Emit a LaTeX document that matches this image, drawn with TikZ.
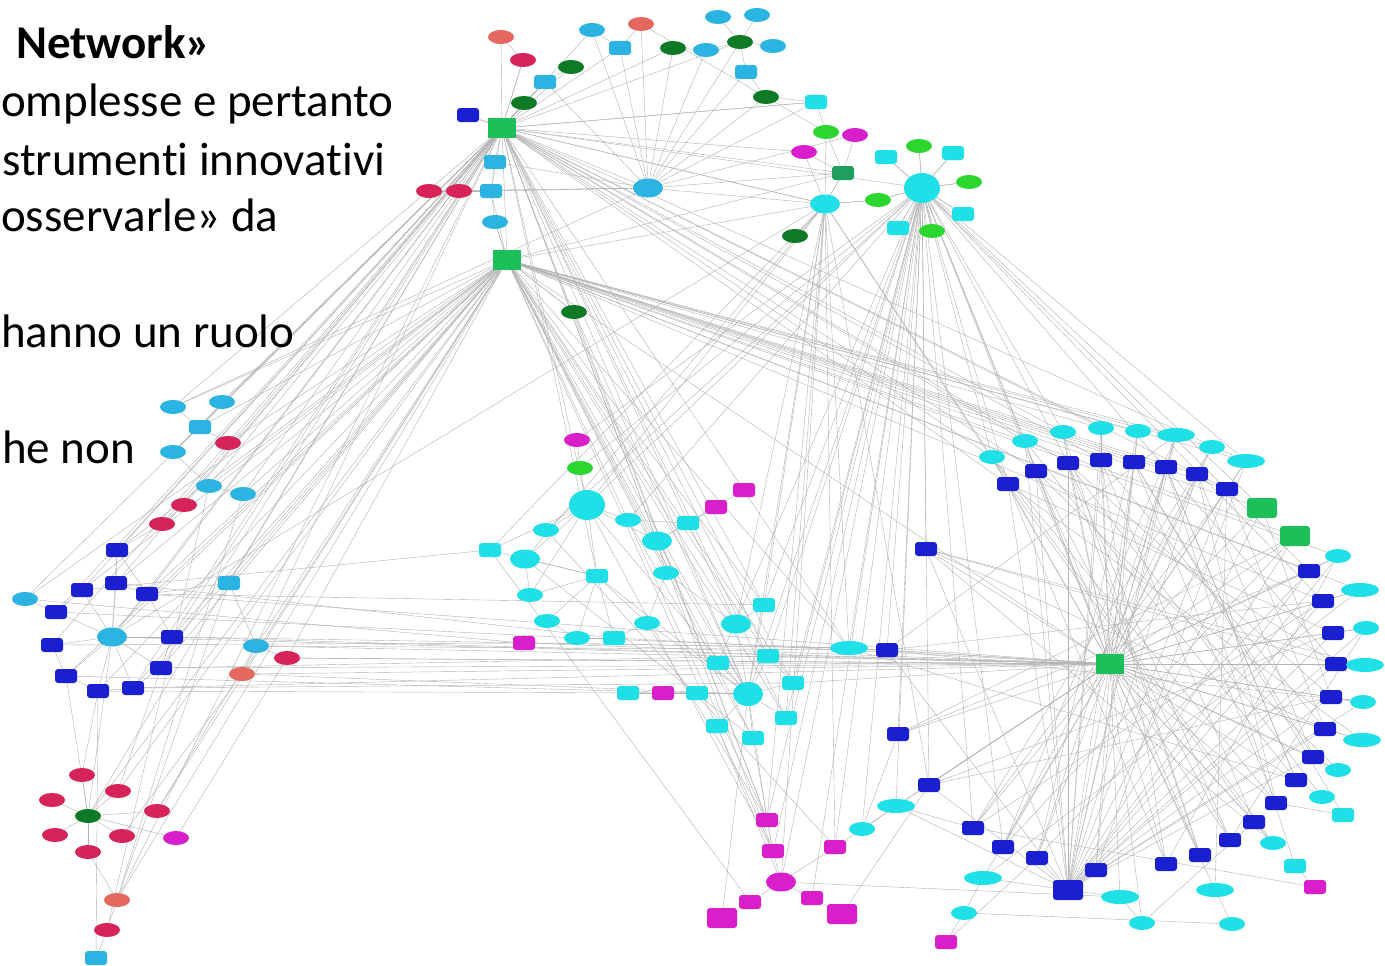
\documentclass[tikz,border=0pt]{standalone}
\usepackage{fontspec}
\setmainfont{Carlito}[Ligatures=NoCommon]
\usetikzlibrary{shapes.geometric,backgrounds}
\definecolor{salmon}{HTML}{E4685F}
\definecolor{crim}{HTML}{D6245A}
\definecolor{sky}{HTML}{2BB3E2}
\definecolor{cyn}{HTML}{1FE0E6}
\definecolor{dgr}{HTML}{0E7A25}
\definecolor{lgr}{HTML}{2BD62E}
\definecolor{sqg}{HTML}{1DBF5A}
\definecolor{seag}{HTML}{1E9E5F}
\definecolor{blu}{HTML}{1A20D0}
\definecolor{mag}{HTML}{D91FCC}
\begin{document}
\begin{tikzpicture}[x=1pt,y=-1pt,
  el/.style={ellipse,inner sep=0pt,minimum width=26pt,minimum height=14pt,draw=none},
  elL/.style={ellipse,inner sep=0pt,minimum width=38pt,minimum height=14pt,draw=none},
  elB/.style={ellipse,inner sep=0pt,minimum width=30pt,minimum height=19pt,draw=none},
  circB/.style={ellipse,inner sep=0pt,minimum width=36pt,minimum height=30pt,draw=none},
  rr/.style={rectangle,rounded corners=3pt,inner sep=0pt,minimum width=22pt,minimum height=14pt,draw=none},
  rrB/.style={rectangle,rounded corners=3pt,inner sep=0pt,minimum width=30pt,minimum height=20pt,draw=none},
  sq/.style={rectangle,inner sep=0pt,minimum width=28pt,minimum height=20pt,draw=none},
  edge/.style={draw=gray!60,line width=0.4pt},
  txt/.style={font=\fontsize{47}{56}\selectfont,inner sep=0pt,anchor=base west,text=black}]
\useasboundingbox (0,0) rectangle (1385,966);
% ---------- text ----------
\node[txt] (w1) at (16,59) {\textbf{Network»}};
\node[txt] (w2) at (1,116) {omplesse e pertanto};
\node[txt] (w3) at (2,175) {strumenti innovativi};
\node[txt] (w4) at (1,231) {osservarle» da};
\node[txt] (w5) at (1,347) {hanno un ruolo};
\node[txt] (w6) at (2,463) {he non};
% ---------- top cluster ----------
\node[el,fill=salmon] (t1) at (501,37) {};
\node[el,fill=crim] (t2) at (523,60) {};
\node[el,fill=sky] (t3) at (592,30) {};
\node[el,fill=salmon] (t4) at (641,24) {};
\node[el,fill=sky] (t5) at (718,17) {};
\node[el,fill=sky] (t6) at (757,15) {};
\node[rr,fill=sky] (t7) at (620,48) {};
\node[el,fill=dgr] (t8) at (673,48) {};
\node[el,fill=sky] (t9) at (706,50) {};
\node[el,fill=dgr] (t10) at (740,42) {};
\node[el,fill=sky] (t11) at (773,46) {};
\node[rr,fill=sky] (t12) at (746,72) {};
\node[el,fill=dgr] (t13) at (571,67) {};
\node[rr,fill=sky] (t14) at (545,82) {};
\node[el,fill=dgr] (t15) at (524,103) {};
\node[el,fill=dgr] (t16) at (766,97) {};
\node[rr,fill=blu] (t17) at (468,115) {};
\node[sq,fill=sqg] (t18) at (502,128) {};
\node[rr,fill=sky] (t19) at (495,162) {};
\node[el,fill=crim] (t20) at (429,191) {};
\node[el,fill=crim] (t21) at (459,191) {};
\node[rr,fill=sky] (t22) at (491,191) {};
\node[el,fill=sky] (t23) at (495,222) {};
\node[sq,fill=sqg] (t24) at (507,260) {};
\node[elB,fill=sky] (t25) at (648,188) {};
\node[el,fill=dgr] (t26) at (574,312) {};
% ---------- right-top cluster ----------
\node[rr,fill=cyn] (r1) at (816,102) {};
\node[el,fill=lgr] (r2) at (826,132) {};
\node[el,fill=mag] (r3) at (855,135) {};
\node[el,fill=mag] (r4) at (804,152) {};
\node[rr,fill=seag] (r5) at (843,173) {};
\node[rr,fill=cyn] (r6) at (886,157) {};
\node[el,fill=lgr] (r7) at (919,146) {};
\node[rr,fill=cyn] (r8) at (953,153) {};
\node[circB,fill=cyn] (r9) at (922,188) {};
\node[el,fill=lgr] (r10) at (969,182) {};
\node[elB,fill=cyn] (r11) at (825,204) {};
\node[el,fill=lgr] (r12) at (878,200) {};
\node[rr,fill=cyn] (r13) at (898,228) {};
\node[el,fill=lgr] (r14) at (932,231) {};
\node[rr,fill=cyn] (r15) at (963,214) {};
\node[el,fill=dgr] (r16) at (795,236) {};
% ---------- left cluster ----------
\node[el,fill=sky] (l1) at (173,407) {};
\node[el,fill=sky] (l2) at (222,402) {};
\node[rr,fill=sky] (l3) at (200,427) {};
\node[el,fill=crim] (l4) at (228,443) {};
\node[el,fill=sky] (l5) at (173,452) {};
\node[el,fill=sky] (l6) at (209,486) {};
\node[el,fill=sky] (l7) at (243,494) {};
\node[el,fill=crim] (l8) at (184,505) {};
\node[el,fill=crim] (l9) at (162,524) {};
\node[rr,fill=blu] (l10) at (117,550) {};
\node[rr,fill=blu] (l11) at (82,590) {};
\node[rr,fill=blu] (l12) at (116,583) {};
\node[rr,fill=blu] (l13) at (147,594) {};
\node[el,fill=sky] (l14) at (25,599) {};
\node[rr,fill=blu] (l15) at (56,612) {};
\node[elB,fill=sky] (l16) at (112,637) {};
\node[rr,fill=blu] (l17) at (172,637) {};
\node[rr,fill=blu] (l18) at (52,645) {};
\node[rr,fill=blu] (l19) at (66,676) {};
\node[rr,fill=blu] (l20) at (161,668) {};
\node[rr,fill=blu] (l21) at (98,691) {};
\node[rr,fill=blu] (l22) at (133,688) {};
\node[rr,fill=sky] (l23) at (229,583) {};
\node[el,fill=sky] (l24) at (256,646) {};
\node[el,fill=crim] (l25) at (287,658) {};
\node[el,fill=salmon] (l26) at (242,674) {};
% ---------- bottom-left cluster ----------
\node[el,fill=crim] (b1) at (82,775) {};
\node[el,fill=crim] (b2) at (52,800) {};
\node[el,fill=crim] (b3) at (118,791) {};
\node[el,fill=dgr] (b4) at (88,816) {};
\node[el,fill=crim] (b5) at (157,811) {};
\node[el,fill=crim] (b6) at (55,835) {};
\node[el,fill=crim] (b7) at (122,836) {};
\node[el,fill=mag] (b8) at (176,838) {};
\node[el,fill=crim] (b9) at (88,852) {};
\node[el,fill=salmon] (b10) at (117,900) {};
\node[el,fill=crim] (b11) at (107,930) {};
\node[rr,fill=sky] (b12) at (96,958) {};
% ---------- middle cluster ----------
\node[el,fill=mag] (m1) at (577,440) {};
\node[el,fill=lgr] (m2) at (580,468) {};
\node[circB,fill=cyn] (m3) at (587,505) {};
\node[rr,fill=mag] (m4) at (744,490) {};
\node[rr,fill=mag] (m5) at (716,507) {};
\node[el,fill=cyn] (m6) at (628,520) {};
\node[rr,fill=cyn] (m7) at (688,523) {};
\node[el,fill=cyn] (m8) at (546,530) {};
\node[elB,fill=cyn] (m9) at (657,541) {};
\node[rr,fill=cyn] (m10) at (490,550) {};
\node[elB,fill=cyn] (m11) at (525,559) {};
\node[rr,fill=cyn] (m12) at (597,576) {};
\node[el,fill=cyn] (m13) at (666,573) {};
\node[el,fill=cyn] (m14) at (530,595) {};
\node[el,fill=cyn] (m15) at (547,621) {};
\node[el,fill=cyn] (m16) at (647,623) {};
\node[rr,fill=mag] (m17) at (524,643) {};
\node[el,fill=cyn] (m18) at (577,638) {};
\node[rr,fill=cyn] (m19) at (614,638) {};
\node[rr,fill=cyn] (m20) at (764,605) {};
\node[elB,fill=cyn] (m21) at (736,624) {};
\node[rr,fill=cyn] (m22) at (768,656) {};
\node[rr,fill=cyn] (m23) at (718,663) {};
\node[rr,fill=cyn] (m24) at (628,693) {};
\node[rr,fill=mag] (m25) at (663,693) {};
\node[rr,fill=cyn] (m26) at (697,693) {};
\node[circB,fill=cyn,minimum height=24pt,minimum width=30pt] (m27) at (748,694) {};
\node[rr,fill=cyn] (m28) at (793,683) {};
\node[rr,fill=cyn] (m29) at (786,718) {};
\node[rr,fill=cyn] (m30) at (717,726) {};
\node[rr,fill=cyn] (m31) at (753,738) {};
\node[elL,fill=cyn] (m32) at (849,648) {};
\node[rr,fill=blu] (m33) at (887,650) {};
\node[rr,fill=blu] (m34) at (926,549) {};
\node[rr,fill=blu] (m35) at (898,734) {};
\node[rr,fill=blu] (m36) at (929,785) {};
% ---------- bottom ----------
\node[rr,fill=mag] (p1) at (767,820) {};
\node[rr,fill=mag] (p2) at (773,851) {};
\node[elB,fill=mag] (p3) at (781,882) {};
\node[rr,fill=mag] (p4) at (750,902) {};
\node[rrB,fill=mag] (p5) at (722,918) {};
\node[rr,fill=mag] (p6) at (812,898) {};
\node[rrB,fill=mag] (p7) at (842,914) {};
\node[rr,fill=mag] (p8) at (835,847) {};
\node[el,fill=cyn] (p9) at (862,829) {};
\node[elL,fill=cyn] (p10) at (896,806) {};
\node[el,fill=cyn] (p11) at (964,913) {};
\node[rr,fill=mag] (p12) at (946,942) {};
% ---------- ring ----------
\node[sq,fill=sqg] (H) at (1110,664) {};
\node[el,fill=cyn] (c1) at (992,457) {};
\node[el,fill=cyn] (c2) at (1025,441) {};
\node[el,fill=cyn] (c3) at (1063,432) {};
\node[el,fill=cyn] (c4) at (1101,428) {};
\node[el,fill=cyn] (c5) at (1138,431) {};
\node[elL,fill=cyn] (c6) at (1176,435) {};
\node[el,fill=cyn] (c7) at (1212,447) {};
\node[elL,fill=cyn] (c8) at (1246,461) {};
\node[rr,fill=blu] (k1) at (1008,484) {};
\node[rr,fill=blu] (k2) at (1036,471) {};
\node[rr,fill=blu] (k3) at (1068,463) {};
\node[rr,fill=blu] (k4) at (1101,460) {};
\node[rr,fill=blu] (k5) at (1134,462) {};
\node[rr,fill=blu] (k6) at (1166,467) {};
\node[rr,fill=blu] (k7) at (1197,474) {};
\node[rr,fill=blu] (k8) at (1227,489) {};
\node[rrB,fill=sqg] (g1) at (1262,508) {};
\node[rrB,fill=sqg] (g2) at (1295,536) {};
\node[rr,fill=blu] (k9) at (1309,571) {};
\node[el,fill=cyn] (c9) at (1338,556) {};
\node[rr,fill=blu] (k10) at (1323,601) {};
\node[elL,fill=cyn] (c10) at (1360,590) {};
\node[rr,fill=blu] (k11) at (1333,633) {};
\node[el,fill=cyn] (c11) at (1366,628) {};
\node[rr,fill=blu] (k12) at (1336,664) {};
\node[elL,fill=cyn] (c12) at (1365,665) {};
\node[rr,fill=blu] (k13) at (1331,697) {};
\node[el,fill=cyn] (c13) at (1363,702) {};
\node[rr,fill=blu] (k14) at (1325,729) {};
\node[elL,fill=cyn] (c14) at (1362,740) {};
\node[rr,fill=blu] (k15) at (1313,757) {};
\node[el,fill=cyn] (c15) at (1338,770) {};
\node[rr,fill=blu] (k16) at (1296,780) {};
\node[el,fill=cyn] (c16) at (1322,797) {};
\node[rr,fill=blu] (k17) at (1276,803) {};
\node[rr,fill=cyn] (c17) at (1343,815) {};
\node[rr,fill=blu] (k18) at (1254,822) {};
\node[el,fill=cyn] (c18) at (1273,843) {};
\node[rr,fill=blu] (k19) at (1230,840) {};
\node[rr,fill=cyn] (c19) at (1295,866) {};
\node[rr,fill=mag] (c20) at (1315,887) {};
\node[rr,fill=blu] (k20) at (1200,855) {};
\node[rr,fill=blu] (k21) at (1166,864) {};
\node[rrB,fill=blu] (k23) at (1068,890) {};
\node[rr,fill=blu] (k22) at (1096,870) {};
\node[rr,fill=blu] (k24) at (1037,858) {};
\node[rr,fill=blu] (k25) at (1003,847) {};
\node[rr,fill=blu] (k26) at (973,828) {};
\node[elL,fill=cyn] (c21) at (1215,890) {};
\node[el,fill=cyn] (c22) at (1232,924) {};
\node[elL,fill=cyn] (c23) at (1120,897) {};
\node[el,fill=cyn] (c24) at (1142,923) {};
\node[elL,fill=cyn] (c25) at (983,878) {};
% ---------- edges ----------
\begin{scope}[on background layer]
\fill[white] (0,0) rectangle (1385,966);
\foreach \b in {t1,t2,t13,t14,t15,t17,t19,t3,t7,t8,t10,t25,t22,
  l1,l2,l3,l5,l6,l7,l8,l9,l10,l12,l13,l16,l17,l20,l22,l23,l24,l15,l11,l14,l18,
  c1,c2,c3,c4,k1,k2,k3,k4,c8,k8,r5,r9,r11,r1,r4,
  m3,m27,m32,m20,m22,p1,m12,m9,m21,m28,m29,p2,b4,b10}
  \draw[edge] (t18) -- (\b);
\foreach \b in {l1,l3,l4,l6,l7,l10,l11,l12,l16,l17,l21,l22,l24,l25,l26,l23,l14,l19,l20,l13,b4,b10,b5,b3,
  c5,c6,c7,c8,k5,k6,k7,k8,g1,g2,c9,k9,c10,k10,H,m32,c4,k4,
  t26,m27,m22,m20,m21,m31,m28,p1,p2,m9,m13,t23,t22,m29,m23}
  \draw[edge] (t24) -- (\b);
\foreach \b in {m3,m2,m1,m8,m6,m27,m22,m20,m23,p1,p2,p3,p8,p6,m32,m33,m34,m35,
  c1,c2,k1,k2,c8,g1,k9,k10,H,k12,p10,p9,r7,r10,r13,r14,r15,r8,r6,r12,m36,k26,k25,c3,k3,m28,m29}
  \draw[edge] (r9) -- (\b);
\foreach \b in {m3,m27,m20,m29,p1,p3,m32,m36,k1,r16,r12,r2,r5,m11,m10,p8,m21,t18,t24,l16,c1}
  \draw[edge] (r11) -- (\b);
\foreach \b in {t3,t7,t8,t9,t12,t10,t16,r1,r5,t20,t21,l1,t14,t4,r3,r11,t19,t22}
  \draw[edge] (t25) -- (\b);
\foreach \b in {k1,k2,k3,k4,k5,k6,k7,k8,k9,k10,k11,k12,k13,k14,k15,k16,k17,k18,k19,k20,k21,k22,k23,k24,k25,k26,
  c1,c2,c3,c4,c5,c6,c7,c8,c9,c10,c11,c12,c13,c14,c15,g1,g2,m32,m33,l16,l17,l13,l22,l20,m22,m28,m23,
  p10,p9,m35,m36,m34,c25,c23,c24,c21,c18,m17,l24,l25,l26}
  \draw[edge] (H) -- (\b);
\foreach \b in {k1,k2,k3,k4,k5,k6,k7,k8,k9,k10,k11,k12,k13,k14,k15,g1,g2,c2,c4,c6,c9,c11,c13,m34,m33,c25,c23,k22,k24,p10,m36}
  \draw[edge] (k23) -- (\b);
\foreach \a/\b in {k1/k21,k2/k20,k3/k19,k4/k18,k5/k17,k6/k16,k7/k15,k8/k14,g1/k13,g2/k25,k9/k24,k10/k26,
  k11/k1,k12/k2,k13/k3,k14/k4,k15/k5,k16/k6,k17/k7,k18/k1,k19/k2,k20/k3,k21/k4,k22/k5,k24/k6,k25/k7,k26/k8,
  c1/k17,c2/k16,c3/k20,c5/k24,c6/k25,c7/k26,c8/k22,c9/k21,c10/c25,c11/k19,c12/m34,c13/m33,c14/k1,c15/k2,
  c16/k3,c17/k5,c18/c1,c19/k6,c20/k26,c21/k8,c22/p11,c24/k18,c22/c21,c23/c24,c25/p11,c20/c19,
  k1/c1,k2/c2,k3/c3,k4/c4,k5/c5,k6/c6,k7/c7,k8/c8,k9/c9,k10/c10,k11/c11,k12/c12,k13/c13,k14/c14,k15/c15,k16/c16,k17/c17,k18/c18,
  m34/k12,m34/k14,m33/k10,m35/k9,m36/k11,m36/k13,m32/k16,m35/g2,m33/c6,m34/c18,
  l13/m20,l17/m32,l22/m28,l20/m22,l26/m27,l25/H,l24/m33,l14/m17,l12/m19,l15/m18,l18/m17,l19/m26,l21/m25,l11/m10,
  l16/l10,l16/l11,l16/l12,l16/l13,l16/l15,l16/l17,l16/l18,l16/l19,l16/l20,l16/l21,l16/l22,l10/l12,l14/l15,l12/l13,
  l10/l13,l11/l15,l18/l19,l19/l21,l21/l22,l22/l20,l17/l20,l13/l17,l3/l1,l3/l2,l3/l5,l3/l4,l6/l7,l6/l5,l8/l9,l9/l10,l23/l24,l24/l25,l24/l26,l23/l13,
  b4/b1,b4/b2,b4/b3,b4/b5,b4/b6,b4/b7,b4/b9,b4/b8,b9/b10,b10/b11,b11/b12,b4/l16,b4/l19,b10/l23,b12/l21,b8/l25,b5/l24,b3/l17,b1/l21,b7/l26,b10/l7,b11/l6,
  m3/m6,m3/m8,m3/m11,m3/m12,m3/m9,m3/m2,m3/m10,m3/m14,m2/m1,m12/m14,m12/m15,m12/m16,m12/m18,m12/m19,m12/m10,m12/m11,
  m27/m21,m27/m22,m27/m23,m27/m24,m27/m25,m27/m26,m27/m28,m27/m29,m27/m30,m27/m31,m27/m20,m27/m16,
  m9/m5,m9/m4,m7/m5,m13/m16,m6/m7,m9/m13,m15/m18,m18/m19,m19/m16,m11/m14,m21/m13,m24/m25,m25/m26,m20/m21,m22/m28,
  m27/p1,m31/p2,m30/p3,m16/p1,m12/m27,m3/m27,m3/p2,m9/m27,m10/p4,m11/m31,m8/p8,m6/m31,m17/m32,m18/m33,m19/H,
  p1/p2,p2/p3,p3/p4,p4/p5,p3/p6,p6/p7,p3/p8,p8/p9,p9/p10,p10/k26,p11/p12,p12/k24,p3/c23,p5/m27,p7/m36,p9/m35,
  r1/r2,r2/r5,r3/r5,r4/r5,r6/r9,r7/r9,r8/r9,r10/r9,r12/r9,r13/r9,r14/r9,r15/r9,r11/r12,r11/r4,r16/r11,r5/r11,
  t1/t2,t2/t18,t13/t14,t14/t15,t15/t18,t3/t7,t7/t4,t8/t9,t9/t10,t10/t11,t10/t5,t10/t6,t10/t12,t12/t16,t16/r1,t17/t18,
  t19/t22,t22/t23,t23/t24,t20/t21,t21/t22,t24/t26,t18/t24,t4/r2,t26/m27,t26/p1,r1/t18,r5/t24}
  \draw[edge] (\a) -- (\b);
\end{scope}
\end{tikzpicture}
\end{document}
